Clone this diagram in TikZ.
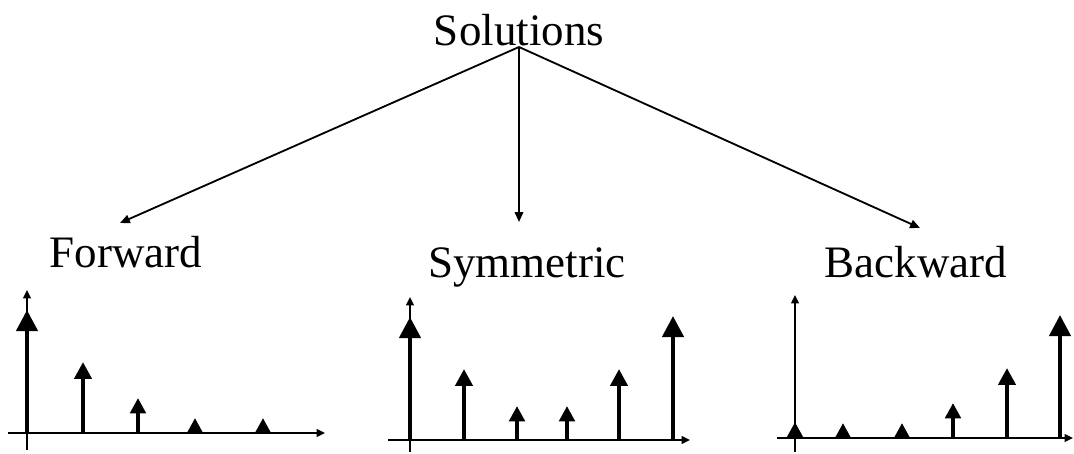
\documentclass[tikz,border=0pt]{standalone}
\usepackage{fontspec}
\setmainfont{Liberation Serif}
\usetikzlibrary{arrows.meta}

\tikzset{
  heading/.style={anchor=base,inner sep=0pt,font=\fontsize{32}{38}\selectfont},
  conn/.style={line width=1.3pt,-{Triangle[length=7pt,width=6pt]}},
  axis/.style={line width=1.1pt,-{Triangle[length=6pt,width=5.5pt]}},
  stem/.style={line width=3pt,-{Triangle[length=#1,width=#1]}}
}

\begin{document}
\begin{tikzpicture}[x=0.025cm,y=-0.025cm]
  \useasboundingbox (0,0) rectangle (1074,454);

  % titles
  \node[heading] (sol) at (519,45) {Solutions};
  \node[heading] (fwd) at (126,267) {Forward};
  \node[heading] (sym) at (527,277) {Symmetric};
  \node[heading] (bwd) at (916,277) {Backward};

  \coordinate (apex) at (519,47);
  \coordinate (fwdtip) at (120,223);
  \coordinate (symtip) at (519,222);
  \coordinate (bwdtip) at (920,228);
  \draw[conn] (apex) -- (fwdtip);
  \draw[conn] (apex) -- (symtip);
  \draw[conn] (apex) -- (bwdtip);

  % forward
  \draw[axis] (8,433) -- (325,433);
  \draw[axis] (27,450) -- (27,290);
  \foreach \x/\t/\s in {27/310/15pt, 83/362/12pt, 138/398/11pt, 195/418/11pt, 263/418/11pt}
    \draw[stem=\s] (\x,433) -- (\x,\t);

  % symmetric
  \draw[axis] (388,440) -- (690,440);
  \draw[axis] (410,452) -- (410,297);
  \foreach \x/\t/\s in {410/317/15pt, 464/369/12pt, 517/406/11pt, 567/406/11pt, 619/369/12pt, 673/316/15pt}
    \draw[stem=\s] (\x,440) -- (\x,\t);

  % backward
  \draw[axis] (777,438) -- (1073,438);
  \draw[axis] (795,452) -- (795,295);
  \foreach \x/\t/\s in {795/422/11pt, 843/423/11pt, 902/423/11pt, 953/403/11pt, 1007/368/12pt, 1060/315/15pt}
    \draw[stem=\s] (\x,438) -- (\x,\t);
\end{tikzpicture}
\end{document}
